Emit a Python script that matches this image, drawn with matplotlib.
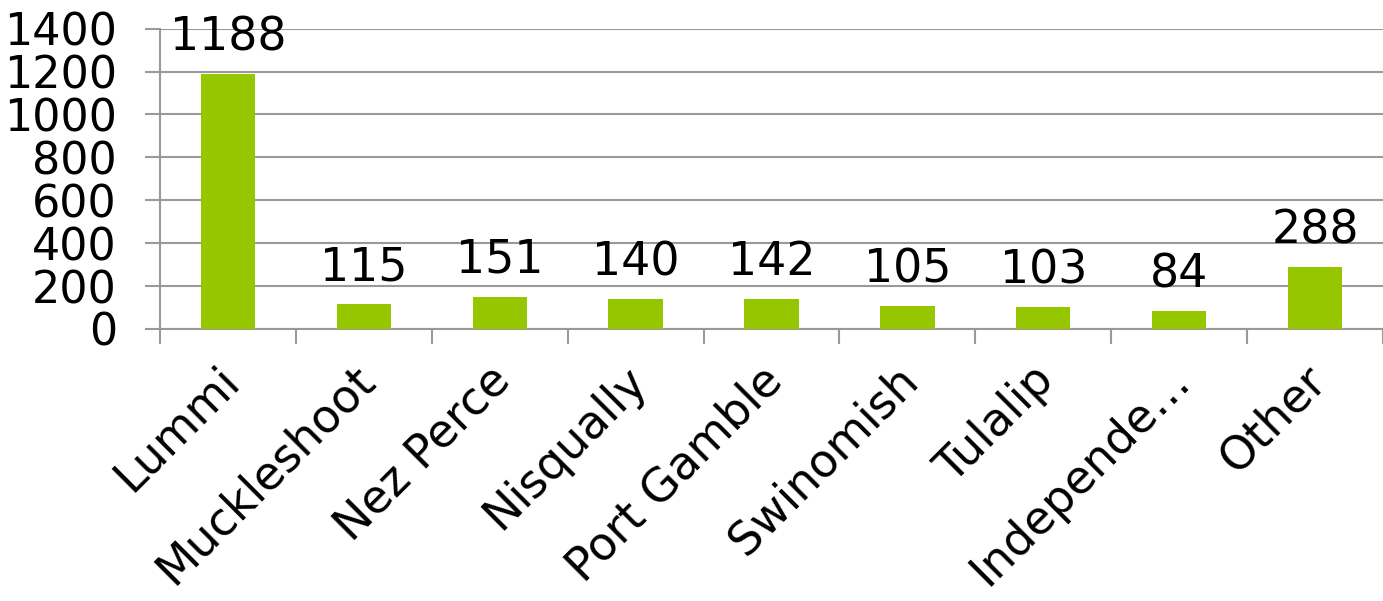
import matplotlib
matplotlib.use("Agg")
import matplotlib.pyplot as plt
import matplotlib.transforms as mtransforms
import numpy as np

categories = ["Lummi", "Muckleshoot", "Nez Perce", "Nisqually", "Port Gamble",
              "Swinomish", "Tulalip", "Independe…", "Other"]
values = [1188, 115, 151, 140, 142, 105, 103, 84, 288]
yticks = [0, 200, 400, 600, 800, 1000, 1200, 1400]

plt.rcParams['font.family'] = ['DejaVu Sans']

fig = plt.figure(figsize=(13.83, 6.01), dpi=100)
ax = fig.add_axes([160/1383, 1-329/601, 1-160/1383, (329-28.6)/601])

x = np.arange(len(categories))
ax.bar(x, values, width=0.4, color="#95C600", zorder=3)
for xi, v in zip(x, values):
    ax.annotate(str(v), (xi, v), xytext=(0, 10), textcoords='offset points',
                ha='center', va='bottom', fontsize=33, color='black')

ax.set_xlim(-0.5, len(categories) - 0.5)
ax.set_ylim(0, 1400)
ax.set_yticks(yticks)
ax.set_yticklabels([str(t) for t in yticks], fontsize=32)
ax.yaxis.grid(True, color="#999999", linewidth=1.5, zorder=0)
ax.tick_params(axis='y', length=11, width=1.5, color="#999999", pad=20)

ax.set_xticks(x)
ax.set_xticklabels(categories, rotation=45, ha='right', va='center',
                   rotation_mode='anchor', fontsize=33)
ax.tick_params(axis='x', which='major', length=0, pad=32)
offset = mtransforms.ScaledTranslation(4/100, 0, fig.dpi_scale_trans)
for lab in ax.get_xticklabels():
    lab.set_transform(lab.get_transform() + offset)
ax.set_xticks(np.arange(len(categories) + 1) - 0.5, minor=True)
ax.tick_params(axis='x', which='minor', length=11, width=1.5, color="#999999")

for s in ['top', 'right']:
    ax.spines[s].set_visible(False)
for s in ['left', 'bottom']:
    ax.spines[s].set_color("#999999")
    ax.spines[s].set_linewidth(1.5)

fig.savefig("out.png", dpi=100)
